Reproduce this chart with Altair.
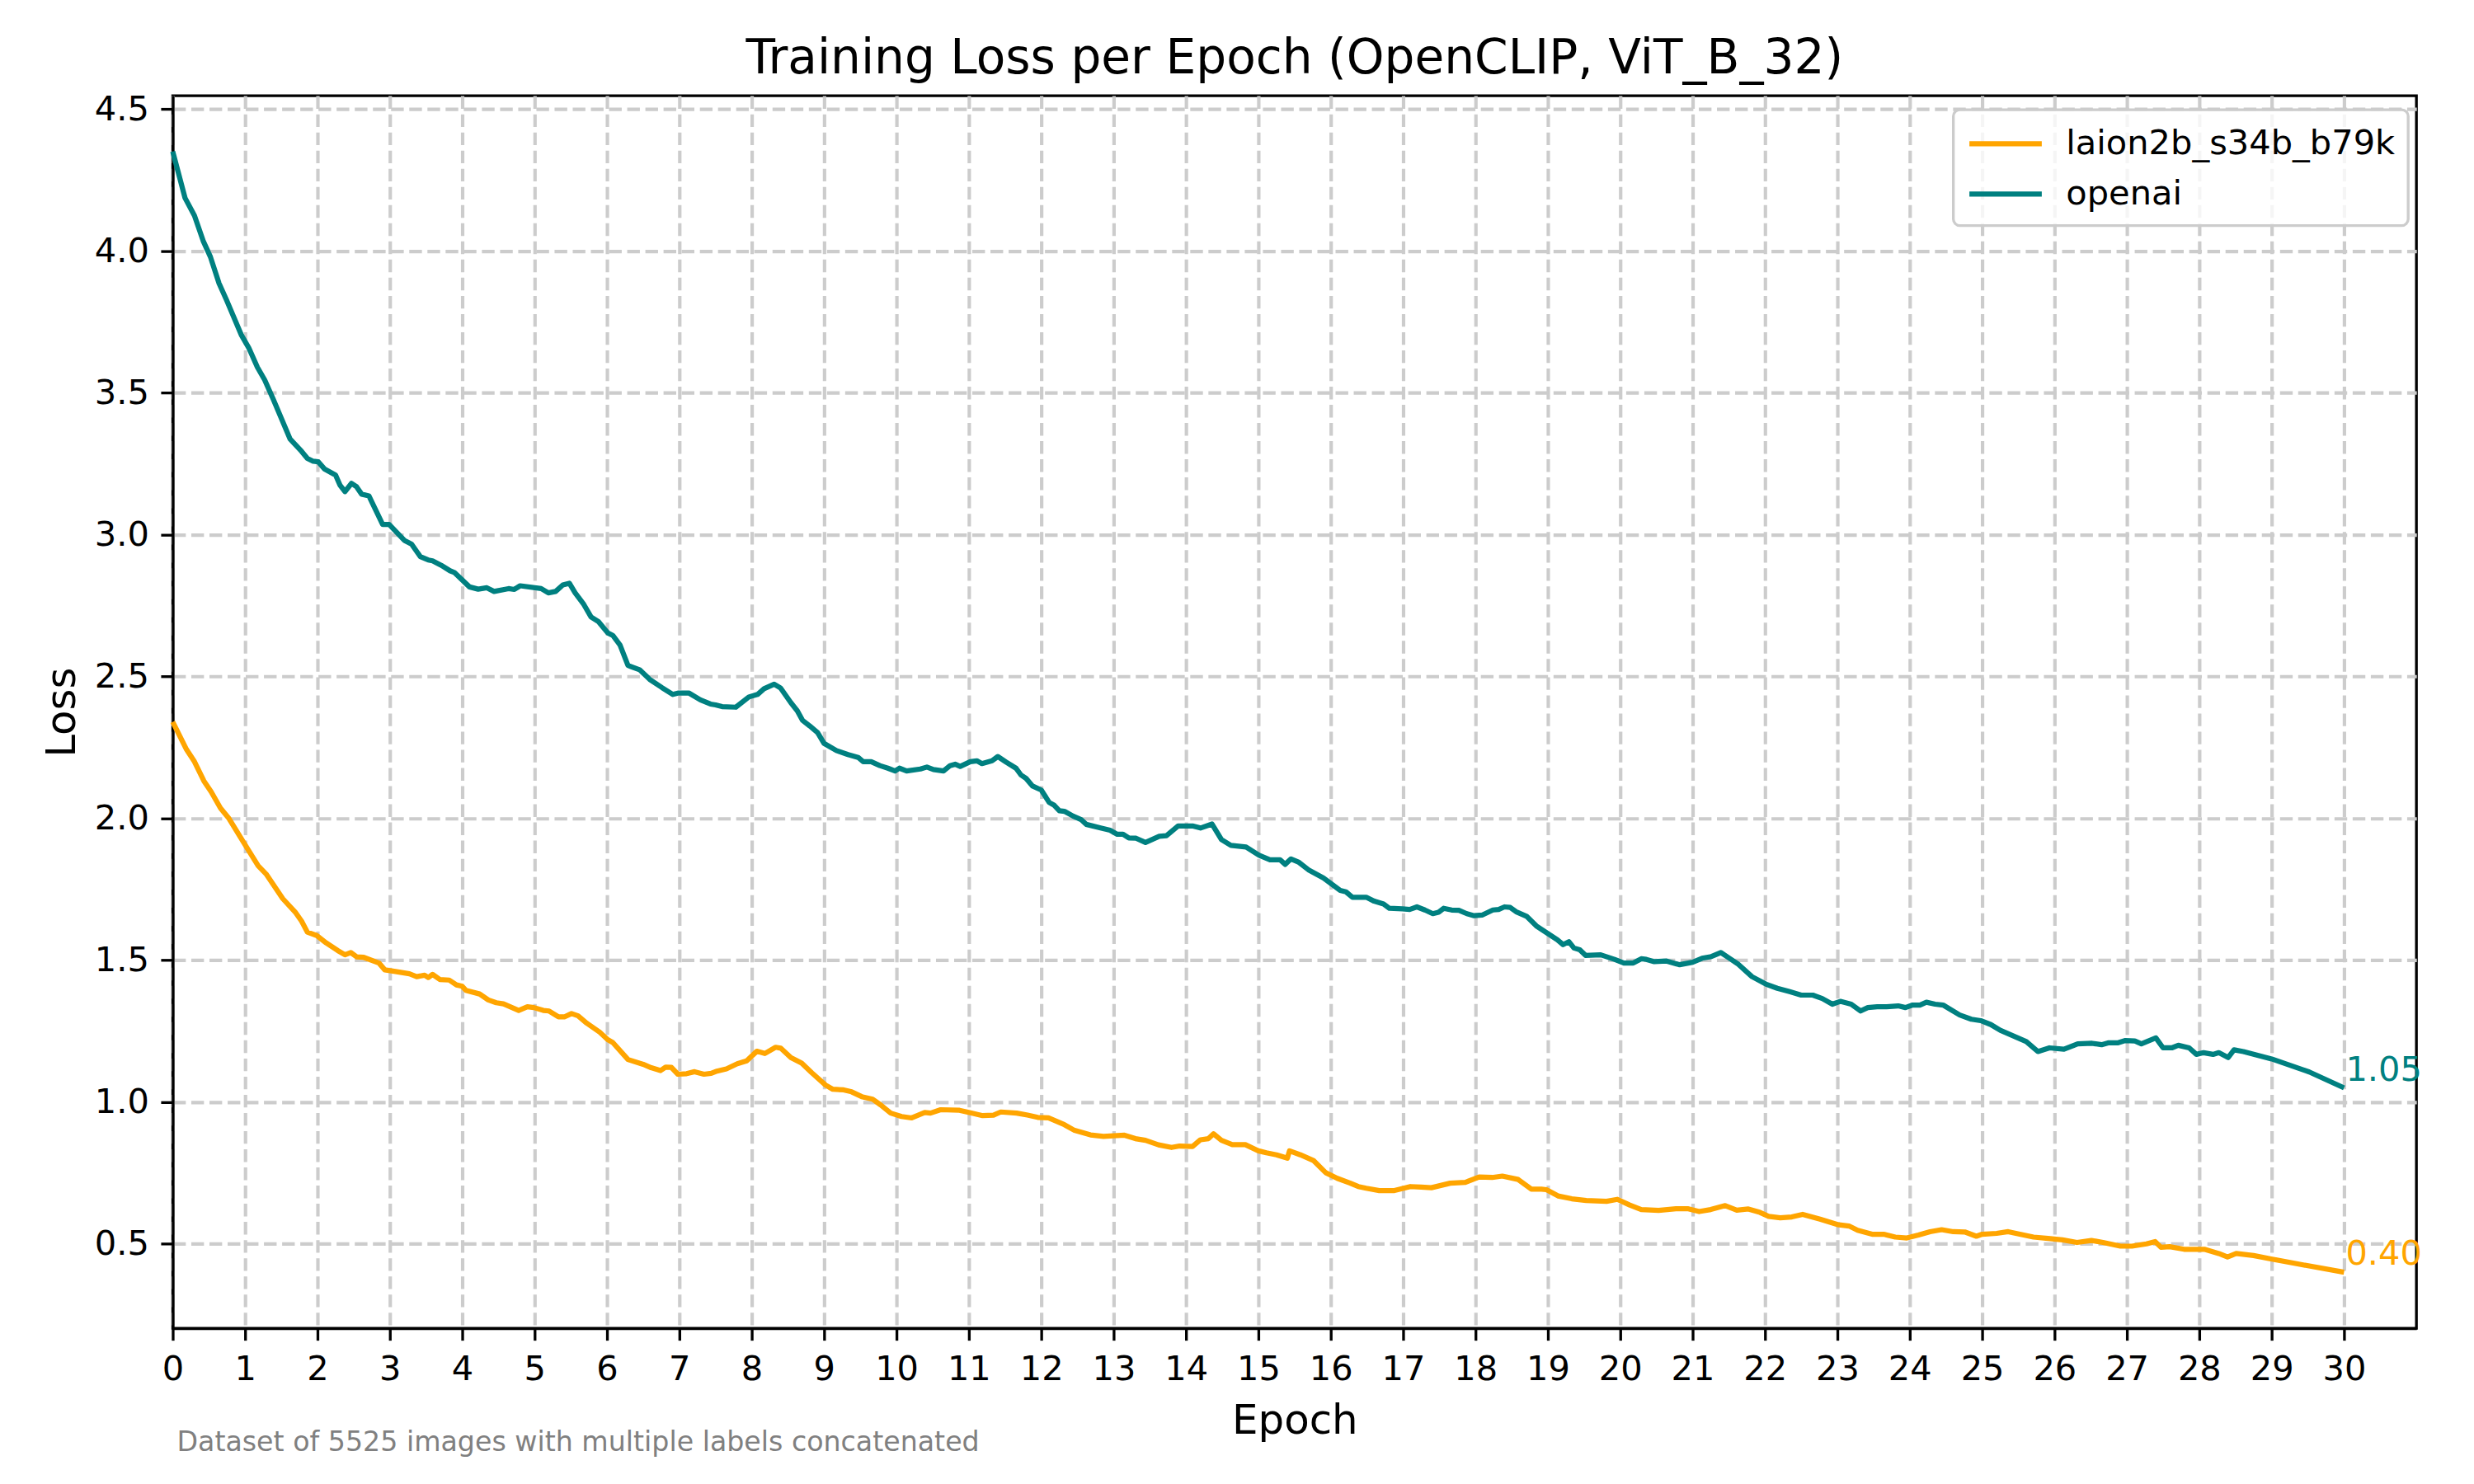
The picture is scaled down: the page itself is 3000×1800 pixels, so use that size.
import altair as alt
import pandas as pd

TITLE = "Training Loss per Epoch (OpenCLIP, ViT_B_32)"
X_TITLE = "Epoch"
Y_TITLE = "Loss"
FOOTNOTE = "Dataset of 5525 images with multiple labels concatenated"

series_names = ["laion2b_s34b_b79k", "openai"]
series_colors = ["#FFA500", "#008080"]

x_ticks = list(range(0, 31))
y_ticks = [0.5, 1.0, 1.5, 2.0, 2.5, 3.0, 3.5, 4.0, 4.5]

laion_epoch = [
    0.00, 0.19, 0.30, 0.43, 0.53, 0.66, 0.77, 0.98, 1.18, 1.29, 1.52, 1.70, 1.78, 1.86, 1.99,
    2.12, 2.28, 2.38, 2.46, 2.54, 2.64, 2.85, 2.93, 3.06, 3.27, 3.37, 3.48, 3.53, 3.59, 3.69,
    3.82, 3.92, 4.00, 4.05, 4.24, 4.36, 4.47, 4.57, 4.78, 4.90, 4.99, 5.12, 5.20, 5.33, 5.41,
    5.51, 5.60, 5.72, 5.90, 6.01, 6.08, 6.29, 6.50, 6.61, 6.74, 6.81, 6.89, 6.98, 7.10, 7.21,
    7.34, 7.44, 7.52, 7.65, 7.80, 7.93, 8.07, 8.18, 8.33, 8.40, 8.54, 8.69, 8.83, 9.02, 9.12,
    9.27, 9.38, 9.52, 9.67, 9.78, 9.92, 10.07, 10.21, 10.39, 10.47, 10.61, 10.87, 11.01, 11.19, 11.34,
    11.44, 11.66, 11.81, 11.95, 12.10, 12.32, 12.46, 12.68, 12.86, 13.00, 13.15, 13.30, 13.44, 13.62, 13.80,
    13.91, 14.09, 14.20, 14.31, 14.38, 14.49, 14.64, 14.82, 15.00, 15.11, 15.25, 15.40, 15.43, 15.58, 15.76,
    15.93, 16.09, 16.27, 16.38, 16.49, 16.67, 16.88, 17.10, 17.25, 17.39, 17.65, 17.86, 18.05, 18.23, 18.37,
    18.59, 18.77, 18.91, 18.98, 19.14, 19.33, 19.53, 19.81, 19.96, 20.13, 20.29, 20.53, 20.77, 20.93, 21.09,
    21.25, 21.45, 21.61, 21.77, 21.93, 22.05, 22.21, 22.37, 22.52, 22.76, 23.00, 23.16, 23.28, 23.48, 23.64,
    23.80, 23.96, 24.12, 24.28, 24.44, 24.60, 24.76, 24.92, 25.00, 25.20, 25.36, 25.52, 25.71, 25.91, 26.11,
    26.31, 26.51, 26.67, 26.91, 27.07, 27.27, 27.39, 27.47, 27.59, 27.79, 28.07, 28.27, 28.39, 28.51, 28.75,
    28.99, 29.39, 30.00,
]
laion_loss = [
    2.340, 2.243, 2.200, 2.132, 2.094, 2.036, 2.002, 1.915, 1.833, 1.804, 1.717, 1.667, 1.638, 1.599, 1.587,
    1.561, 1.534, 1.519, 1.527, 1.512, 1.510, 1.490, 1.466, 1.461, 1.452, 1.442, 1.447, 1.439, 1.450, 1.432,
    1.430, 1.413, 1.408, 1.394, 1.381, 1.360, 1.350, 1.346, 1.323, 1.336, 1.333, 1.323, 1.321, 1.300, 1.300,
    1.312, 1.304, 1.278, 1.246, 1.220, 1.210, 1.150, 1.133, 1.121, 1.111, 1.123, 1.122, 1.098, 1.100, 1.107,
    1.098, 1.101, 1.109, 1.117, 1.135, 1.145, 1.179, 1.171, 1.193, 1.190, 1.157, 1.137, 1.103, 1.060, 1.045,
    1.043, 1.036, 1.019, 1.010, 0.990, 0.961, 0.949, 0.944, 0.963, 0.961, 0.973, 0.971, 0.963, 0.952, 0.954,
    0.965, 0.961, 0.954, 0.946, 0.944, 0.920, 0.900, 0.884, 0.879, 0.881, 0.883, 0.871, 0.865, 0.849, 0.840,
    0.845, 0.843, 0.867, 0.871, 0.888, 0.865, 0.850, 0.850, 0.828, 0.821, 0.814, 0.802, 0.828, 0.814, 0.794,
    0.751, 0.731, 0.714, 0.702, 0.696, 0.688, 0.688, 0.702, 0.700, 0.698, 0.714, 0.717, 0.736, 0.734, 0.739,
    0.727, 0.693, 0.693, 0.691, 0.669, 0.659, 0.653, 0.650, 0.657, 0.637, 0.621, 0.618, 0.624, 0.624, 0.614,
    0.621, 0.635, 0.619, 0.623, 0.611, 0.597, 0.592, 0.595, 0.604, 0.587, 0.568, 0.563, 0.548, 0.534, 0.534,
    0.524, 0.521, 0.531, 0.543, 0.550, 0.543, 0.542, 0.527, 0.534, 0.537, 0.543, 0.534, 0.524, 0.519, 0.514,
    0.505, 0.512, 0.505, 0.492, 0.492, 0.500, 0.508, 0.488, 0.490, 0.481, 0.481, 0.466, 0.454, 0.466, 0.459,
    0.447, 0.428, 0.400,
]

openai_epoch = [
    0.00, 0.17, 0.30, 0.42, 0.52, 0.64, 0.74, 0.95, 1.05, 1.17, 1.27, 1.39, 1.62, 1.78, 1.86,
    1.94, 2.01, 2.10, 2.25, 2.31, 2.38, 2.47, 2.54, 2.61, 2.71, 2.90, 2.99, 3.20, 3.30, 3.42,
    3.53, 3.59, 3.71, 3.83, 3.89, 4.10, 4.22, 4.34, 4.44, 4.64, 4.72, 4.80, 5.09, 5.19, 5.29,
    5.39, 5.48, 5.56, 5.68, 5.78, 5.88, 6.01, 6.08, 6.18, 6.29, 6.45, 6.59, 6.76, 6.91, 6.99,
    7.13, 7.29, 7.43, 7.50, 7.59, 7.78, 7.96, 8.08, 8.17, 8.31, 8.40, 8.54, 8.63, 8.70, 8.80,
    8.91, 9.00, 9.17, 9.33, 9.47, 9.54, 9.65, 9.77, 9.88, 9.98, 10.04, 10.14, 10.33, 10.42, 10.51,
    10.65, 10.74, 10.81, 10.88, 11.02, 11.11, 11.18, 11.32, 11.40, 11.51, 11.65, 11.72, 11.79, 11.88, 12.00,
    12.11, 12.18, 12.25, 12.32, 12.44, 12.55, 12.62, 12.82, 12.95, 13.05, 13.13, 13.21, 13.31, 13.44, 13.63,
    13.73, 13.89, 14.10, 14.20, 14.36, 14.49, 14.62, 14.83, 15.01, 15.16, 15.30, 15.37, 15.45, 15.56, 15.69,
    15.90, 16.13, 16.21, 16.30, 16.39, 16.49, 16.60, 16.73, 16.81, 16.99, 17.09, 17.19, 17.30, 17.41, 17.49,
    17.56, 17.67, 17.77, 17.88, 17.98, 18.09, 18.24, 18.32, 18.40, 18.48, 18.56, 18.71, 18.84, 19.00, 19.13,
    19.21, 19.29, 19.36, 19.44, 19.52, 19.73, 19.92, 20.05, 20.18, 20.29, 20.36, 20.47, 20.64, 20.82, 21.00,
    21.13, 21.26, 21.39, 21.49, 21.62, 21.82, 22.01, 22.17, 22.34, 22.50, 22.66, 22.79, 22.93, 23.04, 23.19,
    23.32, 23.42, 23.55, 23.68, 23.84, 23.94, 24.04, 24.14, 24.23, 24.35, 24.46, 24.69, 24.85, 24.98, 25.12,
    25.25, 25.61, 25.77, 25.93, 26.13, 26.32, 26.52, 26.65, 26.75, 26.88, 26.98, 27.11, 27.20, 27.40, 27.50,
    27.62, 27.71, 27.86, 27.96, 28.06, 28.19, 28.27, 28.40, 28.48, 28.61, 29.00, 29.52, 30.00,
]
openai_loss = [
    4.351, 4.187, 4.125, 4.036, 3.980, 3.886, 3.829, 3.703, 3.659, 3.590, 3.546, 3.477, 3.338, 3.294, 3.269,
    3.259, 3.257, 3.231, 3.210, 3.175, 3.152, 3.181, 3.169, 3.143, 3.137, 3.036, 3.036, 2.980, 2.967, 2.923,
    2.911, 2.908, 2.892, 2.873, 2.867, 2.816, 2.808, 2.813, 2.800, 2.810, 2.807, 2.820, 2.810, 2.795, 2.800,
    2.823, 2.829, 2.795, 2.754, 2.710, 2.694, 2.654, 2.645, 2.611, 2.539, 2.524, 2.490, 2.461, 2.437, 2.442,
    2.442, 2.418, 2.403, 2.400, 2.394, 2.392, 2.428, 2.437, 2.457, 2.473, 2.459, 2.408, 2.379, 2.346, 2.326,
    2.302, 2.264, 2.239, 2.225, 2.215, 2.200, 2.200, 2.186, 2.177, 2.167, 2.177, 2.167, 2.174, 2.181, 2.172,
    2.167, 2.186, 2.191, 2.183, 2.200, 2.203, 2.193, 2.203, 2.218, 2.199, 2.177, 2.153, 2.141, 2.114, 2.100,
    2.056, 2.046, 2.027, 2.025, 2.008, 1.996, 1.979, 1.966, 1.958, 1.944, 1.944, 1.931, 1.930, 1.915, 1.937,
    1.939, 1.973, 1.973, 1.966, 1.980, 1.925, 1.905, 1.899, 1.870, 1.854, 1.854, 1.838, 1.857, 1.845, 1.819,
    1.790, 1.746, 1.741, 1.722, 1.722, 1.722, 1.708, 1.698, 1.683, 1.681, 1.679, 1.688, 1.677, 1.664, 1.669,
    1.683, 1.677, 1.676, 1.664, 1.657, 1.659, 1.677, 1.679, 1.688, 1.686, 1.671, 1.654, 1.621, 1.594, 1.572,
    1.555, 1.565, 1.543, 1.537, 1.517, 1.519, 1.503, 1.490, 1.490, 1.505, 1.503, 1.495, 1.497, 1.484, 1.493,
    1.507, 1.513, 1.527, 1.510, 1.488, 1.442, 1.416, 1.401, 1.389, 1.377, 1.377, 1.365, 1.345, 1.355, 1.345,
    1.321, 1.333, 1.336, 1.336, 1.339, 1.333, 1.342, 1.342, 1.352, 1.345, 1.342, 1.307, 1.292, 1.287, 1.273,
    1.253, 1.213, 1.178, 1.191, 1.186, 1.205, 1.207, 1.202, 1.209, 1.209, 1.217, 1.215, 1.205, 1.226, 1.191,
    1.191, 1.200, 1.191, 1.168, 1.174, 1.168, 1.174, 1.157, 1.184, 1.178, 1.152, 1.106, 1.050,
]

FONT = "DejaVu Sans"
PX = 300 / 72.0  # points -> pixels at the reference resolution

df = pd.concat([
    pd.DataFrame({"model": series_names[0], "epoch": laion_epoch, "loss": laion_loss}),
    pd.DataFrame({"model": series_names[1], "epoch": openai_epoch, "loss": openai_loss}),
], ignore_index=True)

df_end = pd.DataFrame({
    "model": series_names,
    "epoch": [laion_epoch[-1], openai_epoch[-1]],
    "loss": [laion_loss[-1], openai_loss[-1]],
})

df_note = pd.DataFrame({"note": [FOOTNOTE]})

x_scale = alt.Scale(domain=[0, 31], nice=False, zero=False)
y_scale = alt.Scale(domain=[0.2025, 4.5475], nice=False, zero=False)
color_scale = alt.Scale(domain=series_names, range=series_colors)

grid_dash = [3.7 * PX, 1.6 * PX]

x_axis = alt.Axis(
    values=x_ticks, format="d", title=X_TITLE,
    labelFontSize=10 * PX, titleFontSize=12 * PX, titleFontWeight="normal",
    labelColor="black", titleColor="black",
    tickSize=3.5 * PX, tickWidth=0.8 * PX, tickColor="black",
    domainColor="black", domainWidth=0.8 * PX,
    labelPadding=15, titlePadding=16,
    grid=True, gridColor="#cccccc", gridDash=grid_dash, gridWidth=1.0 * PX,
    labelFlush=False, labelOverlap=False,
)
y_axis = alt.Axis(
    values=y_ticks, format=".1f", title=Y_TITLE,
    labelFontSize=10 * PX, titleFontSize=12 * PX, titleFontWeight="normal",
    labelColor="black", titleColor="black",
    tickSize=3.5 * PX, tickWidth=0.8 * PX, tickColor="black",
    domainColor="black", domainWidth=0.8 * PX,
    labelPadding=3.5 * PX, titlePadding=14,
    grid=True, gridColor="#cccccc", gridDash=grid_dash, gridWidth=1.0 * PX,
    labelFlush=False, labelOverlap=False,
)

legend = alt.Legend(
    title=None, orient="none", legendX=2165, legendY=17, direction="vertical",
    symbolType="M-1,0H3", symbolSize=1936, symbolStrokeWidth=1.5 * PX,
    labelFontSize=10 * PX, labelColor="black", labelLimit=0,
    padding=16, rowPadding=13, labelOffset=70,
    strokeColor="#cccccc", fillColor="rgba(255,255,255,0.8)", cornerRadius=8,
)

lines = alt.Chart(df).mark_line(strokeWidth=1.5 * PX, strokeJoin="round").encode(
    x=alt.X("epoch:Q", scale=x_scale, axis=x_axis),
    y=alt.Y("loss:Q", scale=y_scale, axis=y_axis),
    color=alt.Color("model:N", scale=color_scale, legend=legend),
    order=alt.Order("epoch:Q"),
)

end_labels = alt.Chart(df_end).mark_text(
    align="left", baseline="bottom", dx=2, fontSize=10 * PX, font=FONT,
).encode(
    x=alt.X("epoch:Q", scale=x_scale),
    y=alt.Y("loss:Q", scale=y_scale),
    text=alt.Text("loss:Q", format=".2f"),
    color=alt.Color("model:N", scale=color_scale, legend=None),
)

note = alt.Chart(df_note).mark_text(
    align="left", baseline="alphabetic", fontSize=8 * PX, font=FONT, color="#808080",
).encode(
    x=alt.value(5),
    y=alt.value(1648),
    text="note:N",
)

chart = alt.layer(lines, end_labels, note).properties(
    width=2728,
    height=1499,
    autosize=alt.AutoSizeParams(type="none"),
    padding={"left": 202, "top": 106, "right": 62, "bottom": 187},
    title=alt.TitleParams(
        TITLE, fontSize=14 * PX, fontWeight="normal", color="black", font=FONT,
        anchor="middle", frame="group", baseline="alphabetic", offset=20, dy=55,
    ),
).configure(
    font=FONT,
    background="white",
).configure_view(
    stroke="black", strokeWidth=0.8 * PX,
).configure_legend(
    strokeWidth=0.8 * PX, labelFont=FONT,
).configure_axis(
    labelFont=FONT, titleFont=FONT,
)

chart.save("out.html", embed_options={"renderer": "svg", "actions": False})
